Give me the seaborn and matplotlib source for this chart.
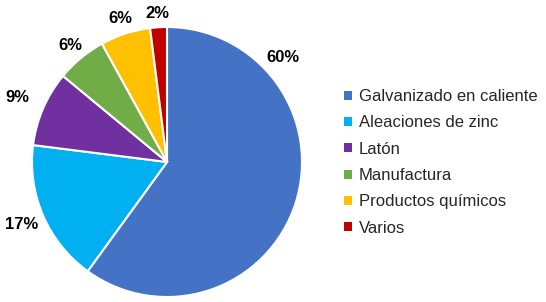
import matplotlib
matplotlib.use("Agg")
import matplotlib.pyplot as plt
import matplotlib.patches as mpatches
import numpy as np
import seaborn as sns

categories = ["Galvanizado en caliente", "Aleaciones de zinc", "Latón",
              "Manufactura", "Productos químicos", "Varios"]
values = [60, 17, 9, 6, 6, 2]
colors = ["#4472C4", "#00B0F0", "#7030A0", "#70AD47", "#FFC000", "#C00000"]

sns.set_theme(style="white")
plt.rcParams["font.family"] = ["Liberation Sans", "DejaVu Sans"]
palette = sns.color_palette(colors)

fig = plt.figure(figsize=(5.46, 3.02), dpi=100)
W, H = 546, 302
cx, cy, r = 167, 162, 135
ax = fig.add_axes([(cx - r) / W, (H - cy - r) / H, 2 * r / W, 2 * r / H])

wedges, texts, autotexts = ax.pie(
    values, colors=palette, startangle=90, counterclock=False,
    autopct="%1.0f%%", pctdistance=1.15,
    wedgeprops=dict(edgecolor="white", linewidth=1.5),
    textprops=dict(fontsize=12, fontweight="bold", color="black"),
)
# label placement (Excel best fit): radial distance per label, custom angle for the first
label_dist = [1.16, 1.17, 1.21, 1.12, 1.12, 1.10]
label_angle = [42, None, None, None, None, None]
for w, t, d, a in zip(wedges, autotexts, label_dist, label_angle):
    mid = (w.theta1 + w.theta2) / 2 if a is None else a
    t.set_position((d * np.cos(np.deg2rad(mid)), d * np.sin(np.deg2rad(mid))))
ax.set_xlim(-1, 1)
ax.set_ylim(-1, 1)
ax.set_aspect("equal")
ax.axis("off")

handles = [mpatches.Patch(facecolor=c, edgecolor="none") for c in palette]
fig.legend(handles, categories, loc="upper left",
           bbox_to_anchor=(344 / W, 1 - 89 / H), frameon=False,
           fontsize=12, handlelength=0.45, handleheight=0.45,
           handletextpad=0.45, labelspacing=0.68, borderaxespad=0,
           borderpad=0)

fig.savefig("out.png", dpi=100)
